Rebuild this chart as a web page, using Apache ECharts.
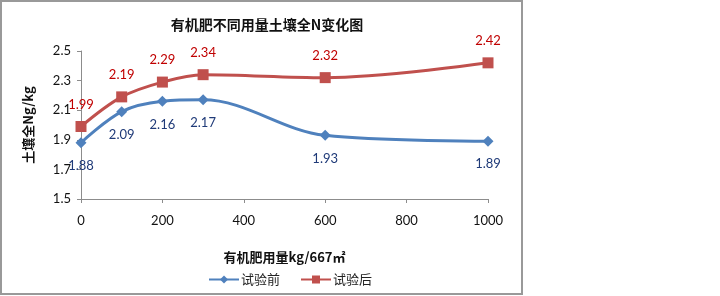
<!DOCTYPE html>
<html>
<head>
    <meta charset="utf-8">
    <title>有机肥不同用量土壤全N变化图</title>
    <style>
        html, body { margin: 0; padding: 0; background: #fff; }
        #charts { width: 720px; height: 296px; }
    </style>
</head>
<body>
<div id="charts"></div>
<script src="https://cdn.jsdelivr.net/npm/echarts@6/dist/echarts.min.js"></script>
<script>
    // 施用量 (kg/667㎡)
    var doses = [0, 100, 200, 300, 600, 1000];
    // 土壤全N g/kg
    var before = [1.88, 2.09, 2.16, 2.17, 1.93, 1.89];
    var after = [1.99, 2.19, 2.29, 2.34, 2.32, 2.42];

    var font = '"Noto Sans CJK SC", sans-serif';
    var numFont = 'Lato, "Noto Sans", sans-serif';

    var myChart = echarts.init(document.getElementById('charts'));

    function pairs(vals) {
        return doses.map(function (d, i) { return [d, vals[i]]; });
    }

    var option = {
        animation: false,
        graphic: [{
            type: 'rect',
            shape: { x: 1, y: 1, width: 521, height: 293 },
            style: { fill: 'none', stroke: '#999', lineWidth: 2 },
            silent: true
        }],
        title: {
            text: '有机肥不同用量土壤全N变化图',
            left: 262,
            textAlign: 'center',
            top: 13,
            textStyle: { fontFamily: font, fontSize: 14, fontWeight: 'bold', color: '#111' }
        },
        legend: {
            left: 203,
            top: 268,
            itemGap: 20,
            itemWidth: 30,
            itemHeight: 10,
            textStyle: { fontFamily: font, fontSize: 13, color: '#222', padding: [0, 0, 0, -3] },
            data: ['试验前', '试验后']
        },
        grid: { left: 81, right: 232, top: 51, bottom: 97 },
        xAxis: {
            type: 'value',
            min: 0, max: 1000, interval: 200,
            name: '有机肥用量kg/667㎡',
            nameLocation: 'middle',
            nameGap: 52,
            nameTextStyle: { fontFamily: font, fontSize: 13, fontWeight: 'bold', color: '#111' },
            axisLine: { lineStyle: { color: '#8c8c8c' } },
            axisTick: { show: true, length: 4, lineStyle: { color: '#8c8c8c' } },
            axisLabel: { fontFamily: numFont, fontSize: 13, color: '#111', margin: 15,
                formatter: function (v) { return String(v); } },
            splitLine: { show: false }
        },
        yAxis: {
            type: 'value',
            min: 1.5, max: 2.5, interval: 0.2,
            name: '土壤全Ng/kg',
            nameLocation: 'middle',
            nameGap: 46,
            nameTextStyle: { fontFamily: font, fontSize: 13, fontWeight: 'bold', color: '#111' },
            axisLine: { show: true, lineStyle: { color: '#8c8c8c' } },
            axisTick: { show: true, length: 4, lineStyle: { color: '#8c8c8c' } },
            axisLabel: { fontFamily: numFont, fontSize: 13, color: '#111', margin: 10,
                formatter: function (v) { return v.toFixed(1); } },
            splitLine: { show: false }
        },
        series: [
            {
                name: '试验前',
                type: 'line',
                smooth: 0.35,
                data: pairs(before),
                symbol: 'diamond',
                symbolSize: 11,
                lineStyle: { color: '#4f81bd', width: 3 },
                itemStyle: { color: '#4f81bd' },
                label: {
                    show: true, position: 'bottom', distance: 11,
                    fontFamily: numFont, fontSize: 13, color: '#1f3a78'
                }
            },
            {
                name: '试验后',
                type: 'line',
                smooth: 0.35,
                data: pairs(after),
                symbol: 'rect',
                symbolSize: 11,
                lineStyle: { color: '#c0504d', width: 3 },
                itemStyle: { color: '#c0504d' },
                label: {
                    show: true, position: 'top', distance: 10,
                    fontFamily: numFont, fontSize: 13, color: '#c00000'
                }
            }
        ]
    };
    myChart.setOption(option);
</script>
</body>
</html>
